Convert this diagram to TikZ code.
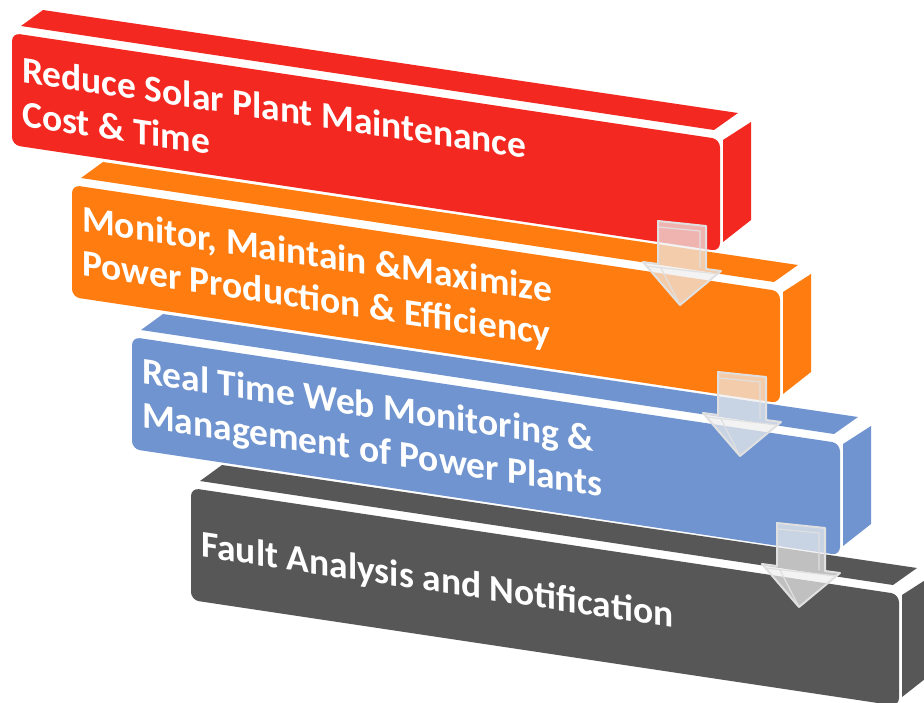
\documentclass[tikz,border=0pt]{standalone}
\usepackage{fontspec}
\setmainfont{Carlito}
\definecolor{cRed}{RGB}{243,41,33}
\definecolor{cOrange}{RGB}{254,124,16}
\definecolor{cBlue}{RGB}{112,148,207}
\definecolor{cGray}{RGB}{87,87,87}
\definecolor{arrFill}{RGB}{238,238,238}
\definecolor{arrLine}{RGB}{224,224,224}
\tikzset{
  boxlabel/.style={anchor=west, inner sep=0pt, align=left, text=white,
    font=\bfseries\fontsize{37.5}{44}\selectfont, transform shape},
  arrbody/.style={fill=arrFill, fill opacity=0.7, draw=arrLine, line width=2pt, line join=round},
  arrinner/.style={draw=arrLine, line width=1.2pt, line cap=round},
}
\newcommand\stepbox[5]{%
  \begin{scope}[shift={(#1,#2)}]
    \fill[#3] (9,-7) -- (31,-23) -- (726,80) -- (702,97) -- cycle;
    \fill[#3] (711,107) -- (739,89) -- (739,187) -- (711,209) -- cycle;
    \begin{scope}[yslant=-0.15]
      \fill[#3, rounded corners=8pt] (0,0) rectangle (708,112);
      \node[boxlabel] (#4) at (10,57) {#5};
    \end{scope}
  \end{scope}}
\newcommand\flowarrow[2]{%
  \begin{scope}[shift={(#1,#2)}]
    \filldraw[arrbody] (0,0) -- (48,5) -- (48,48) -- (63,50) -- (22,84) -- (-15,41) -- (0,43) -- cycle;
    \draw[arrinner] (1,6) -- (42,10) -- (42,47);
    \draw[arrinner] (-12,45) -- (60,53);
    \draw[arrinner] (3,47) -- (22,84);
  \end{scope}}
\begin{document}
\begin{tikzpicture}[x=1pt,y=-1pt]
  \useasboundingbox (0,0) rectangle (924,702);
  \clip (0,0) rectangle (924,702);
  \stepbox{12}{33}{cRed}{t1}{Reduce Solar Plant Maintenance\\Cost \& Time}
  \stepbox{72}{185}{cOrange}{t2}{Monitor, Maintain \&Maximize\\Power Production \& Efficiency}
  \stepbox{132}{337}{cBlue}{t3}{Real Time Web Monitoring \&\\Management of Power Plants}
  \stepbox{191}{488}{cGray}{t4}{Fault Analysis and Notification}
  \flowarrow{658}{221}
  \flowarrow{718}{372}
  \flowarrow{777}{523}
\end{tikzpicture}
\end{document}
